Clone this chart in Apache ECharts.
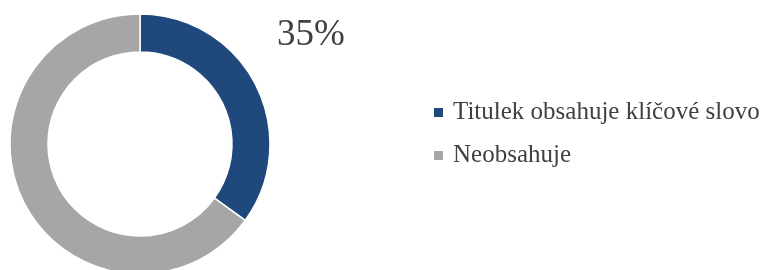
<!DOCTYPE html>
<html><head><meta charset="utf-8">
<script src="https://cdn.jsdelivr.net/npm/echarts@6/dist/echarts.min.js"></script>
<style>html,body{margin:0;padding:0;background:#fff}#c{width:761px;height:270px}</style>
</head><body><div id="c"></div>
<script>
const categories = ['Titulek obsahuje klíčové slovo', 'Neobsahuje'];
const values = [35, 65];
const colors = ['#1F497D', '#A6A6A6'];
const FONT = '"Liberation Serif", "DejaVu Serif", serif';
const chart = echarts.init(document.getElementById('c'), null, {renderer: 'canvas'});
chart.setOption({
  animation: false,
  color: colors,
  legend: {
    orient: 'vertical', left: 429, top: 95,
    itemWidth: 9, itemHeight: 9, itemGap: 18,
    icon: 'rect',
    itemStyle: {borderWidth: 0},
    textStyle: {fontFamily: FONT, fontSize: 25, color: '#404040', padding: [0, 0, 0, 5]},
    data: categories
  },
  series: [{
    type: 'pie',
    center: [140, 144],
    radius: [92, 130],
    startAngle: 90,
    clockwise: true,
    avoidLabelOverlap: false,
    itemStyle: {borderColor: '#fff', borderWidth: 1.5},
    label: {show: false},
    labelLine: {show: false},
    labelLayout: function (p) { return {x: 277, y: 35, align: 'left', verticalAlign: 'middle'}; },
    data: categories.map((n, i) => ({
      name: n, value: values[i],
      label: i === 0 ? {show: true, position: 'outside', formatter: '{d}%', fontFamily: FONT, fontSize: 37, color: '#404040'} : {show: false}
    }))
  }]
});
</script></body></html>
